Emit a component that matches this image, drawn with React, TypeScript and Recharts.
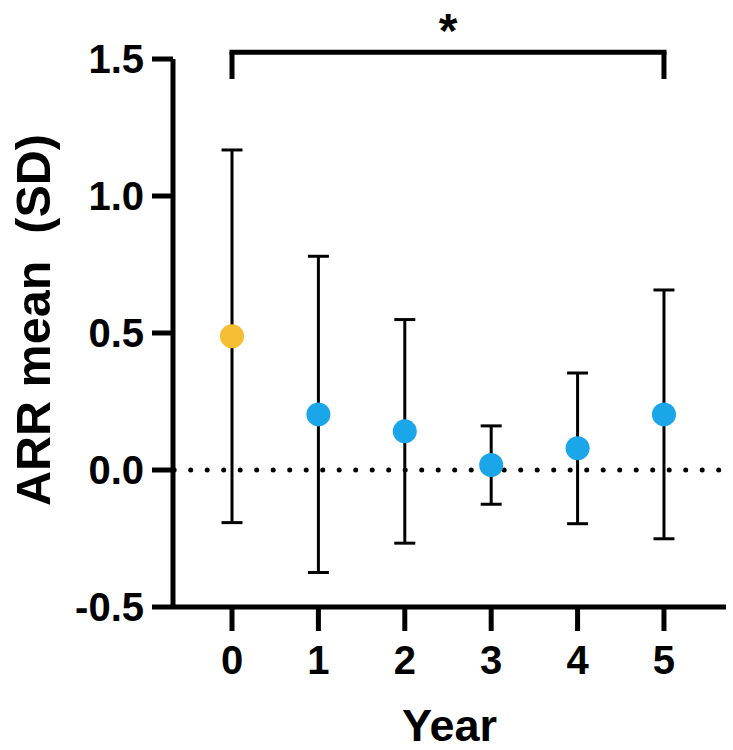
import { ScatterChart, Scatter, XAxis, YAxis, ErrorBar, ReferenceLine } from 'recharts';

// ARR by year, mean and SD
const years = [0, 1, 2, 3, 4, 5];
const means = [0.488, 0.203, 0.141, 0.018, 0.079, 0.203];
const sds = [0.68, 0.577, 0.408, 0.143, 0.275, 0.454];
const yTicks = [-0.5, 0, 0.5, 1.0, 1.5];

const xTitle = 'Year';
const yTitle = 'ARR mean  (SD)';

// significance bracket: year 0 vs year 5
const bracketFrom = 0;
const bracketTo = 5;
const bracketTop = 1.525;
const bracketFoot = 1.427;
const sigMark = '*';

const data = years.map((year, i) => ({ year, mean: means[i], sd: sds[i] }));

const FONT = '"Liberation Sans", Arial, Helvetica, sans-serif';
const YELLOW = '#F4BD32';
const BLUE = '#1BA6E9';

const YTitle = (props: any) => {
  const vb = props.viewBox || { x: 0, y: 59, width: 173, height: 548 };
  const tx = vb.x + 50;
  const ty = vb.y + vb.height / 2 - 13;
  return (
    <text
      x={tx}
      y={ty}
      transform={`rotate(-90, ${tx}, ${ty})`}
      textAnchor="middle"
      fontFamily={FONT}
      fontWeight="bold"
      fontSize={48.5}
      fill="#000"
      style={{ whiteSpace: 'pre' }}
    >
      {yTitle}
    </text>
  );
};

const XTitle = (props: any) => {
  const vb = props.viewBox || { x: 173, y: 607, width: 553, height: 100 };
  return (
    <text
      x={vb.x + vb.width / 2}
      y={vb.y + 134}
      textAnchor="middle"
      fontFamily={FONT}
      fontWeight="bold"
      fontSize={45}
      fill="#000"
    >
      {xTitle}
    </text>
  );
};

const Dot = (props: any) => {
  const { cx, cy, payload } = props;
  return <circle cx={cx} cy={cy} r={12} fill={payload.year === 0 ? YELLOW : BLUE} />;
};

export default function App() {
  const tickStyle = { fontFamily: FONT, fontWeight: 'bold', fontSize: 40, fill: '#000' };
  return (
    <div style={{ position: 'absolute', left: 0, top: 0, width: 733, height: 750, background: '#fff' }}>
      <ScatterChart width={733} height={750} margin={{ top: 59, right: 7, bottom: 43, left: 0 }}>
        <XAxis
          type="number"
          dataKey="year"
          domain={[-0.683, 5.718]}
          ticks={years}
          allowDataOverflow
          height={100}
          axisLine={{ stroke: '#000', strokeWidth: 5 }}
          tickLine={{ stroke: '#000', strokeWidth: 5 }}
          tickSize={24}
          tickMargin={15}
          tick={tickStyle}
          label={XTitle}
        />
        <YAxis
          type="number"
          dataKey="mean"
          domain={[-0.5, 1.5]}
          ticks={yTicks}
          allowDataOverflow
          width={173}
          axisLine={{ stroke: '#000', strokeWidth: 5 }}
          tickLine={{ stroke: '#000', strokeWidth: 5 }}
          tickSize={21}
          tickMargin={8}
          tick={tickStyle}
          tickFormatter={(v: number) => v.toFixed(1)}
          label={YTitle}
        />
        <ReferenceLine
          y={0}
          stroke="#000"
          strokeWidth={5}
          strokeDasharray="0 16.5"
          strokeDashoffset={15.3}
          strokeLinecap="round"
        />
        <ReferenceLine
          segment={[{ x: bracketFrom, y: bracketTop }, { x: bracketTo, y: bracketTop }]}
          ifOverflow="visible"
          stroke="#000"
          strokeWidth={5}
          strokeLinecap="square"
          label={{ value: sigMark, position: 'top', offset: 5, fontFamily: FONT, fontWeight: 'bold', fontSize: 48, fill: '#000' }}
        />
        <ReferenceLine
          segment={[{ x: bracketFrom, y: bracketTop }, { x: bracketFrom, y: bracketFoot }]}
          ifOverflow="visible"
          stroke="#000"
          strokeWidth={5}
        />
        <ReferenceLine
          segment={[{ x: bracketTo, y: bracketTop }, { x: bracketTo, y: bracketFoot }]}
          ifOverflow="visible"
          stroke="#000"
          strokeWidth={5}
        />
        <Scatter data={data} dataKey="mean" shape={Dot} isAnimationActive={false}>
          <ErrorBar dataKey="sd" direction="y" width={10.5} strokeWidth={3} stroke="#000" isAnimationActive={false} />
        </Scatter>
      </ScatterChart>
    </div>
  );
}
